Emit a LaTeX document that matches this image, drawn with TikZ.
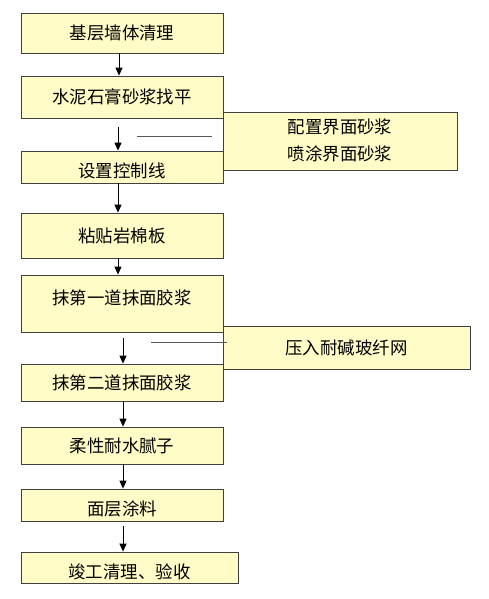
\documentclass[tikz,border=0pt]{standalone}
\usepackage{fontspec}
\newfontfamily\cjk{Noto Sans CJK SC}
\usetikzlibrary{arrows.meta,shadows}
\begin{document}
\begin{tikzpicture}[x=1bp,y=-1bp,
  box/.style={draw=black!75,fill=yellow!22,line width=0.8bp,minimum width=202bp,
    inner sep=0pt,font=\cjk\fontsize{17.5}{27}\selectfont,align=center,
    drop shadow={shadow xshift=1bp,shadow yshift=-1bp,fill=black!30,opacity=1}},
  flow/.style={line width=1bp,-{Triangle[width=7bp,length=8bp]}},
  hint/.style={draw=black!65,line width=1bp}]%
\useasboundingbox (0,0) rectangle (489,599);
% main column
\node[box,minimum height=40bp] (b1) at (122,33) {基层墙体清理};
\node[box,minimum height=42bp] (b2) at (122,97) {水泥石膏砂浆找平};
\node[box,minimum height=58bp,minimum width=234bp,text depth=2bp] (s1) at (340,141)
  {配置界面砂浆\\喷涂界面砂浆};
\node[box,minimum height=32bp,text height=22bp] (b3) at (122,167) {设置控制线};
\node[box,minimum height=45bp] (b4) at (122,235.5) {粘贴岩棉板};
\node[box,minimum height=57bp,text depth=13bp] (b5) at (122,303.5) {抹第一道抹面胶浆};
\node[box,minimum height=43bp,minimum width=247bp] (s2) at (346.5,347.5) {压入耐碱玻纤网};
\node[box,minimum height=37bp] (b6) at (122,382.5) {抹第二道抹面胶浆};
\node[box,minimum height=37bp] (b7) at (122,445.5) {柔性耐水腻子};
\node[box,minimum height=32bp,text height=23bp] (b8) at (122,505) {面层涂料};
\node[box,minimum height=31bp,minimum width=217bp,text height=23bp] (b9) at (129.5,567.5)
  {竣工清理、验收};
% arrows
\coordinate (a2) at (118,127);
\coordinate (a5) at (123,338);
\coordinate (a8) at (123,526);
\draw[flow] ([xshift=-3bp]b1.south) -- ([xshift=-3bp]b2.north);
\draw[flow] (a2) -- (a2 |- b3.north);
\draw[flow] ([xshift=-4bp]b3.south) -- ([xshift=-4bp]b4.north);
\draw[flow] ([xshift=-4bp]b4.south) -- ([xshift=-4bp]b5.north);
\draw[flow] (a5) -- (a5 |- b6.north);
\draw[flow] ([xshift=1bp]b6.south) -- ([xshift=1bp]b7.north);
\draw[flow] ([xshift=1bp]b7.south) -- ([xshift=1bp]b8.north);
\draw[flow] (a8) -- (a8 |- b9.north);
% side lines
\coordinate (h1) at (137,137);
\coordinate (h1e) at (212,137);
\coordinate (h2) at (151,342);
\draw[hint] (h1) -- (h1e);
\draw[hint] (h2) -- ([xshift=4bp]h2 -| s2.west);
\end{tikzpicture}
\end{document}
